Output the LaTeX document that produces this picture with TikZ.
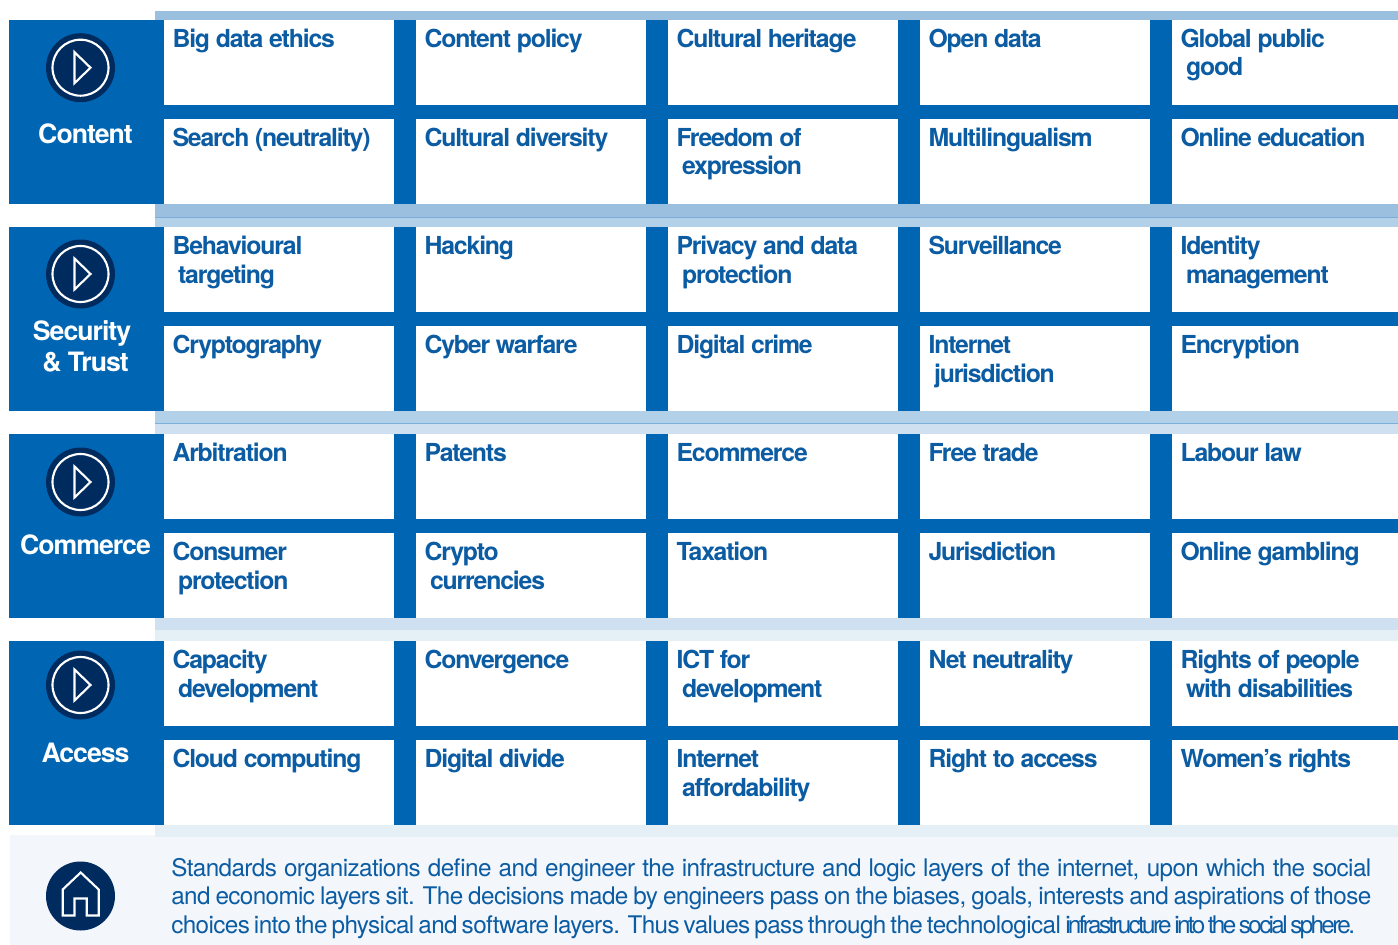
\documentclass[tikz,border=0pt]{standalone}
\usepackage{fontspec}
\setmainfont{TeX Gyre Heros}
\newfontfamily\cellfont[LetterSpace=-4.7]{TeX Gyre Heros}
\newfontfamily\headfont[LetterSpace=-3.8]{TeX Gyre Heros}
\newfontfamily\parafont[LetterSpace=-2.5]{TeX Gyre Heros}
\newfontfamily\tightfont[LetterSpace=-11.0]{TeX Gyre Heros}
\definecolor{blk}{HTML}{0066B3}
\definecolor{ink}{HTML}{0B5CA3}
\definecolor{navy}{HTML}{002B5E}
\definecolor{sa}{HTML}{9BBFDF}
\definecolor{sb}{HTML}{B2D0E8}
\definecolor{sc}{HTML}{CFE1F0}
\definecolor{sd}{HTML}{E4EFF6}
\definecolor{panel}{HTML}{F3F6FB}
\tikzset{
 celltext/.style={anchor=base west,inner sep=0pt,outer sep=0pt,text=ink,font=\fontsize{18.6}{22}\cellfont\bfseries},
 headtext/.style={anchor=base,inner sep=0pt,text=white,font=\fontsize{20}{22}\headfont\bfseries},
 paratext/.style={anchor=base west,inner sep=0pt,text=ink,font=\fontsize{18.2}{22}\parafont},
 iconline/.style={draw=white,line width=1.6pt,line join=miter},
 seam/.style={line width=0.6pt}
}
% \one{name}{col x}{baseline y}{text}
\newcommand{\one}[4]{\node[celltext] (#1) at ({#2-0.5},{#3+0.9}) {#4};}
% \two{name}{col x}{baseline y}{first}{second}
\newcommand{\two}[5]{\node[celltext] (#1a) at ({#2-0.5},{#3+0.9}) {#4};\node[celltext] (#1b) at ({#2+5},{#3+29}) {#5};}
\newcommand{\rowshape}[1]{%
 \fill[blk] (9,#1) rectangle (1398,{#1+184});
 \foreach \xl/\xr in {164/394,416/646,668/898,920/1150,1172/1398}{
  \fill[white] (\xl,#1) rectangle (\xr,{#1+85});
  \fill[white] (\xl,{#1+99}) rectangle (\xr,{#1+184});
 }}
\newcommand{\playicon}[2]{%
 \node[circle,fill=navy,minimum size=51.75pt,inner sep=0pt] (#1) at (80.5,#2) {};
 \draw[iconline] (80.5,#2) circle[radius=28];
 \draw[iconline] (74.5,{#2-15.5}) -- (90.5,#2) -- (74.5,{#2+15.5}) -- cycle;}
\begin{document}
\begin{tikzpicture}[x=0.75pt,y=-0.75pt]
\useasboundingbox (0,0) rectangle (1398,945);
\fill[white] (0,0) rectangle (1398,945);
% strips
\fill[sa] (155,11) rectangle (1398,20);
\fill[sa] (155,204) rectangle (1398,217.5);
\fill[sb] (155,217.5) rectangle (1398,227);
\draw[seam,color=sa!80!blk] (155,217.5) -- (1398,217.5);
\fill[sb] (155,411) rectangle (1398,423.5);
\fill[sc] (155,423.5) rectangle (1398,434);
\draw[seam,color=sb!70!blk] (155,423.5) -- (1398,423.5);
\fill[sc] (155,618) rectangle (1398,630);
\fill[sd] (155,630) rectangle (1398,641);
% rows
\rowshape{20}\rowshape{227}\rowshape{434}\rowshape{641}
% panel
\fill[panel] (10,835) rectangle (1398,945);
\fill[sd] (155,825) rectangle (1398,836.5);
% icons
\playicon{iconA}{67.7}\playicon{iconB}{274}\playicon{iconC}{482}\playicon{iconD}{685}
\node[circle,fill=navy,minimum size=51.75pt,inner sep=0pt] (iconE) at (80.5,896) {};
\draw[iconline] (62.7,915.5) -- (62.7,889.5) -- (80.7,872.5) -- (98.7,889.5) -- (98.7,915.5) -- (86.7,915.5) -- (86.7,898.5) -- (74.5,898.5) -- (74.5,915.5) -- cycle;
% heads
\node[headtext] (hA) at (85.5,143.7) {Content};
\node[headtext] (hB1) at (82,340.7) {Security};
\node[headtext] (hB2) at (85.5,371.7) {\& Trust};
\node[headtext] (hC) at (85.5,554.3) {Commerce};
\node[headtext] (hD) at (85.5,762.3) {Access};
% row 1
\one{a1}{173}{47}{Big data ethics}
\one{a2}{425}{47}{Content policy}
\one{a3}{677}{47}{Cultural heritage}
\one{a4}{929}{47}{Open data}
\two{a5}{1181}{47}{Global public}{good}
\one{a6}{173}{146}{Search (neutrality)}
\one{a7}{425}{146}{Cultural diversity}
\two{a8}{677}{146}{Freedom of}{expression}
\one{a9}{929}{146}{Multilingualism}
\one{a10}{1181}{146}{Online education}
% row 2
\two{b1}{173}{254}{Behavioural}{targeting}
\one{b2}{425}{254}{Hacking}
\two{b3}{677}{254}{Privacy and data}{protection}
\one{b4}{929}{254}{Surveillance}
\two{b5}{1181}{254}{Identity}{management}
\one{b6}{173}{353}{Cryptography}
\one{b7}{425}{353}{Cyber warfare}
\one{b8}{677}{353}{Digital crime}
\two{b9}{929}{353}{Internet}{jurisdiction}
\one{b10}{1181}{353}{Encryption}
% row 3
\one{c1}{173}{461}{Arbitration}
\one{c2}{425}{461}{Patents}
\one{c3}{677}{461}{Ecommerce}
\one{c4}{929}{461}{Free trade}
\one{c5}{1181}{461}{Labour law}
\two{c6}{173}{560}{Consumer}{protection}
\two{c7}{425}{560}{Crypto}{currencies}
\one{c8}{677}{560}{Taxation}
\one{c9}{929}{560}{Jurisdiction}
\one{c10}{1181}{560}{Online gambling}
% row 4
\two{d1}{173}{668}{Capacity}{development}
\one{d2}{425}{668}{Convergence}
\two{d3}{677}{668}{ICT for}{development}
\one{d4}{929}{668}{Net neutrality}
\two{d5}{1181}{668}{Rights of people}{with disabilities}
\one{d6}{173}{767}{Cloud computing}
\one{d7}{425}{767}{Digital divide}
\two{d8}{677}{767}{Internet}{affordability}
\one{d9}{929}{767}{Right to access}
\one{d10}{1181}{767}{Women’s rights}
% paragraph
\node[paratext] (p1) at (171,876) {\makebox[900pt][s]{Standards organizations define and engineer the infrastructure and logic layers of the internet, upon which the social}};
\node[paratext] (p2) at (171,904.5) {\makebox[900pt][s]{and economic layers sit. The decisions made by engineers pass on the biases, goals, interests and aspirations of those}};
\node[paratext] (p3) at (171,933) {\makebox[666.75pt][s]{choices into the physical and software layers. Thus values pass through the technological}\hspace{3.75pt}\makebox[215.25pt][s]{\tightfont infrastructure into the social sphere.}};
\end{tikzpicture}
\end{document}
